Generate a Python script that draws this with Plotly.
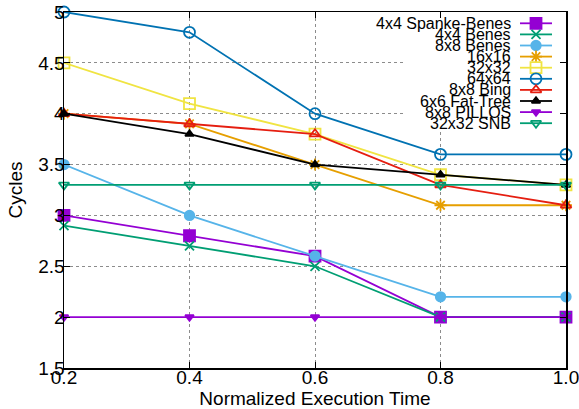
import plotly.graph_objects as go

x_vals = [0.2, 0.4, 0.6, 0.8, 1.0]
x_tick_text = ["0.2", "0.4", "0.6", "0.8", "1.0"]
y_tick_vals = [1.5, 2, 2.5, 3, 3.5, 4, 4.5, 5]
y_tick_text = ["1.5", "2", "2.5", "3", "3.5", "4", "4.5", "5"]

names = ["4x4 Spanke-Benes", "4x4 Benes", "8x8 Benes", "16x16", "32x32",
         "64x64", "8x8 Bing", "6x6 Fat-Tree", "8x8 PILLOS", "32x32 SNB"]

spanke_benes_4x4 = [3.0, 2.8, 2.6, 2.0, 2.0]
benes_4x4 = [2.9, 2.7, 2.5, 2.0, 2.0]
benes_8x8 = [3.5, 3.0, 2.6, 2.2, 2.2]
n16x16 = [4.0, 3.9, 3.5, 3.1, 3.1]
n32x32 = [4.5, 4.1, 3.8, 3.4, 3.3]
n64x64 = [5.0, 4.8, 4.0, 3.6, 3.6]
bing_8x8 = [4.0, 3.9, 3.8, 3.3, 3.1]
fat_tree_6x6 = [4.0, 3.8, 3.5, 3.4, 3.3]
pillos_8x8 = [2.0, 2.0, 2.0, 2.0, 2.0]
snb_32x32 = [3.3, 3.3, 3.3, 3.3, 3.3]

series = [spanke_benes_4x4, benes_4x4, benes_8x8, n16x16, n32x32,
          n64x64, bing_8x8, fat_tree_6x6, pillos_8x8, snb_32x32]

colors = ["#9400D3", "#009E73", "#56B4E9", "#E69F00", "#F0E442",
          "#0072B2", "#E51E10", "#000000", "#9400D3", "#009E73"]
symbols = ["square", "x-thin-open", "circle", "asterisk-open", "square-open",
           "circle-open", "triangle-up-open", "triangle-up", "triangle-down",
           "triangle-down-open"]
sizes = [11, 9, 9.5, 10, 11, 11, 9.5, 7.5, 7.5, 9]

FONT = "Liberation Sans, Arial, Helvetica, sans-serif"

W, H = 579, 409
# plot area in page pixels
PL, PR, PT, PB = 64, 566, 12, 368

fig = go.Figure()

for name, ys, c, s, sz in zip(names, series, colors, symbols, sizes):
    fig.add_trace(go.Scatter(
        x=x_vals, y=ys, name=name, mode="lines+markers",
        line=dict(color=c, width=1.8),
        marker=dict(symbol=s, size=sz, color=c, line=dict(color=c, width=1.8)),
        cliponaxis=False, showlegend=False,
    ))

# custom gnuplot-style key, in pixel coordinates on an overlay axis
box_x0, box_x1, box_y0, box_y1 = 406, 560, 13, 129
fig.add_trace(go.Scatter(
    x=[box_x0, box_x1, box_x1, box_x0, box_x0],
    y=[box_y0, box_y0, box_y1, box_y1, box_y0],
    fill="toself", fillcolor="white", mode="none",
    xaxis="x2", yaxis="y2", showlegend=False, hoverinfo="skip",
))
row0, drow = 23.3, 11.1
for i, (name, c, s, sz) in enumerate(zip(names, colors, symbols, sizes)):
    yy = row0 + i * drow
    fig.add_trace(go.Scatter(
        x=[520, 536, 552], y=[yy, yy, yy], mode="lines+markers",
        line=dict(color=c, width=1.8),
        marker=dict(symbol=s, size=sz, color=c, opacity=[0, 1, 0],
                    line=dict(color=c, width=1.8)),
        xaxis="x2", yaxis="y2", showlegend=False, hoverinfo="skip",
        cliponaxis=False,
    ))
    fig.add_annotation(
        x=513, y=yy, xref="x2", yref="y2", text=name, showarrow=False,
        xanchor="right", yanchor="middle",
        font=dict(family=FONT, size=16, color="black"),
    )

fig.update_layout(
    width=W, height=H,
    margin=dict(l=PL, r=W - PR, t=PT, b=H - PB, pad=0),
    paper_bgcolor="white", plot_bgcolor="white",
    font=dict(family=FONT, size=19, color="black"),
    showlegend=False,
    xaxis=dict(
        range=[0.2, 1.0], tickvals=x_vals, ticktext=x_tick_text,
        showline=True, linecolor="black", linewidth=1.5, mirror="ticks",
        ticks="inside", ticklen=6, tickcolor="black", tickwidth=1,
        showgrid=True, gridcolor="#8c8c8c", griddash="dot", gridwidth=1,
        zeroline=False, automargin=False, ticklabelstandoff=-8,
        ticklabeloverflow="allow",
        title=dict(text="Normalized Execution Time", standoff=0,
                   font=dict(size=19)),
        tickfont=dict(size=19),
    ),
    yaxis=dict(
        range=[1.5, 5], tickvals=y_tick_vals, ticktext=y_tick_text,
        showline=True, linecolor="black", linewidth=1.5, mirror="ticks",
        ticks="inside", ticklen=6, tickcolor="black", tickwidth=1,
        showgrid=True, gridcolor="#8c8c8c", griddash="dot", gridwidth=1,
        zeroline=False, automargin=False, ticklabelstandoff=-6,
        ticklabeloverflow="allow",
        title=dict(text="Cycles", standoff=10, font=dict(size=19)),
        tickfont=dict(size=19),
    ),
    xaxis2=dict(range=[PL, PR], overlaying="x", anchor="y2", visible=False,
                fixedrange=True, automargin=False),
    yaxis2=dict(range=[PB, PT], overlaying="y", anchor="x2", visible=False,
                fixedrange=True, automargin=False),
)

fig.write_html("out.html",
               config={"displayModeBar": False, "staticPlot": True},
               post_script="document.body.style.margin='0';"
                           "document.body.style.overflow='hidden';")
